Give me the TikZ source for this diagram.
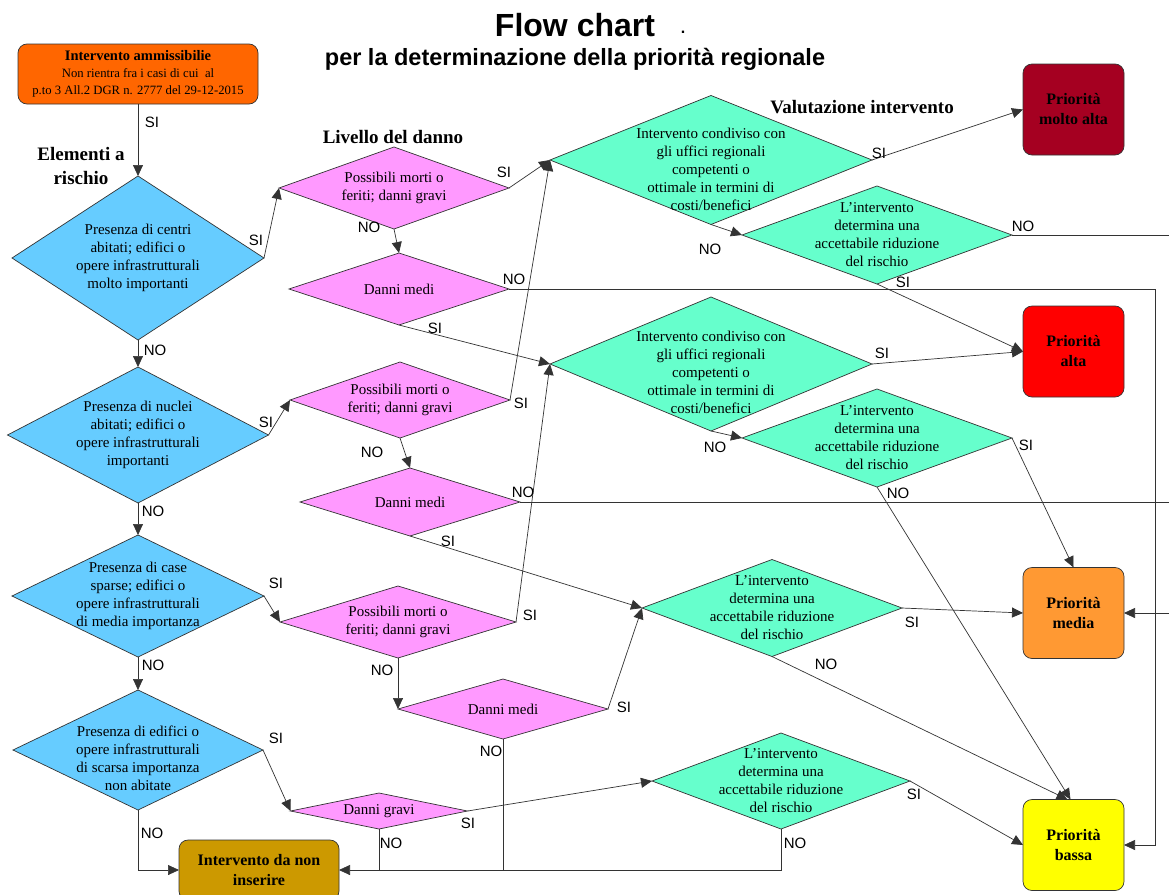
\documentclass[tikz,border=0pt]{standalone}
\usepackage{fontspec}
\setmainfont{Liberation Serif}
\setsansfont{Liberation Sans}
\usetikzlibrary{arrows.meta, shapes.geometric}

\definecolor{linegray}{HTML}{333333}
\definecolor{startorange}{HTML}{FF6600}
\definecolor{riskblue}{HTML}{66CCFF}
\definecolor{harmpink}{HTML}{FF99FF}
\definecolor{evalgreen}{HTML}{66FFCC}
\definecolor{prioveryhigh}{HTML}{A50021}
\definecolor{priohigh}{HTML}{FF0000}
\definecolor{priomid}{HTML}{FF9933}
\definecolor{priolow}{HTML}{FFFF00}
\definecolor{rejectgold}{HTML}{CC9900}

\newcommand{\diafont}{\fontsize{15}{18}\selectfont}
\newcommand{\priofont}{\bfseries\fontsize{16}{20}\selectfont}
\newcommand{\lblfont}{\sffamily\fontsize{15}{15}\selectfont}
\newcommand{\hdfont}{\bfseries\fontsize{19}{24}\selectfont}

\begin{document}
\begin{tikzpicture}[
    x=1pt, y=-1pt,
    dia/.style={diamond, draw=linegray, line width=0.7pt, inner sep=0pt, outer sep=0pt},
    risk/.style={dia, fill=riskblue},
    harm/.style={dia, fill=harmpink},
    eval/.style={dia, fill=evalgreen},
    box/.style={rectangle, draw=linegray, line width=0.7pt, rounded corners=9pt, align=center, font=\priofont, outer sep=0pt},
    prio/.style={box, minimum width=101pt, minimum height=91pt},
    dtxt/.style={align=center, font=\diafont, inner sep=0pt},
    head/.style={align=center, font=\hdfont},
    lbl/.style={font=\lblfont, inner sep=0pt},
    arrow/.style={-{Triangle[length=11pt, width=10pt]}, draw=linegray, line width=0.7pt},
    link/.style={draw=linegray, line width=0.7pt}
]
    \useasboundingbox (0,0) rectangle (1169,894);
    \fill[white] (0,0) rectangle (1169,894);

    % Titolo
    \node[font=\sffamily\bfseries\fontsize{32}{36}\selectfont, anchor=base] (title) at (575,36) {Flow chart};
    \node[font=\sffamily\bfseries\fontsize{16}{16}\selectfont, anchor=base] (titledot) at (683,33) {.};
    \node[font=\sffamily\bfseries\fontsize{23.5}{26}\selectfont, anchor=base] (subtitle) at (575,65) {per la determinazione della priorità regionale};

    % Intestazioni delle colonne
    \node[head] (hrisk) at (81,166) {Elementi a\\rischio};
    \node[head] (hharm) at (393,137) {Livello del danno};
    \node[head] (heval) at (862,107) {Valutazione intervento};

    % Intervento ammissibile
    \node[box, fill=startorange, minimum width=240pt, minimum height=60pt, font=\fontsize{12.7}{17}\selectfont] (start) at (138,74)
        {{\bfseries\fontsize{14.5}{17}\selectfont Intervento ammissibilie}\\Non rientra fra i casi di cui~ al\\p.to 3 All.2 DGR n. 2777 del 29-12-2015};

    % Elementi a rischio
    \node[risk, minimum width=252pt, minimum height=164pt] (d1) at (138,258) {};
    \node[dtxt] (d1t) at (d1) {Presenza di centri\\abitati; edifici o\\opere infrastrutturali\\molto importanti};
    \node[risk, minimum width=261pt, minimum height=136pt] (d2) at (138,435) {};
    \node[dtxt] (d2t) at (d2) {Presenza di nuclei\\abitati; edifici o\\opere infrastrutturali\\importanti};
    \node[risk, minimum width=252pt, minimum height=122pt] (d3) at (138,596) {};
    \node[dtxt] (d3t) at (d3) {Presenza di case\\sparse; edifici o\\opere infrastrutturali\\di media importanza};
    \node[risk, minimum width=250pt, minimum height=120pt] (d4) at (138,750) {};
    \node[dtxt] (d4t) at (138,758) {Presenza di edifici o\\opere infrastrutturali\\di scarsa importanza\\non abitate};

    % Livello del danno
    \node[harm, minimum width=230pt, minimum height=82pt] (p1) at (394,188) {};
    \node[dtxt] (p1t) at (p1) {Possibili morti o\\feriti; danni gravi};
    \node[harm, minimum width=220pt, minimum height=72pt] (p2) at (399,289) {};
    \node[dtxt] (p2t) at (p2) {Danni medi};
    \node[harm, minimum width=220pt, minimum height=76pt] (p3) at (400,400) {};
    \node[dtxt] (p3t) at (p3) {Possibili morti o\\feriti; danni gravi};
    \node[harm, minimum width=220pt, minimum height=68pt] (p4) at (410,502) {};
    \node[dtxt] (p4t) at (p4) {Danni medi};
    \node[harm, minimum width=236pt, minimum height=72pt] (p5) at (398,622) {};
    \node[dtxt] (p5t) at (p5) {Possibili morti o\\feriti; danni gravi};
    \node[harm, minimum width=210pt, minimum height=60pt] (p6) at (503,709) {};
    \node[dtxt] (p6t) at (p6) {Danni medi};
    \node[harm, minimum width=177pt, minimum height=36pt] (p7) at (379,811) {};
    \node[dtxt] (p7t) at (p7) {Danni gravi};

    % Valutazione intervento
    \node[eval, minimum width=322pt, minimum height=129pt] (g1) at (711,160) {};
    \node[dtxt] (g1t) at (711,169) {Intervento condiviso con\\gli uffici regionali\\competenti o\\ottimale in termini di\\costi/benefici};
    \node[eval, minimum width=270pt, minimum height=98pt] (g2) at (877,235) {};
    \node[dtxt] (g2t) at (g2) {L’intervento\\determina una\\accettabile riduzione\\del rischio};
    \node[eval, minimum width=322pt, minimum height=134pt] (g3) at (711,364) {};
    \node[dtxt] (g3t) at (711,372) {Intervento condiviso con\\gli uffici regionali\\competenti o\\ottimale in termini di\\costi/benefici};
    \node[eval, minimum width=270pt, minimum height=98pt] (g4) at (877,438) {};
    \node[dtxt] (g4t) at (g4) {L’intervento\\determina una\\accettabile riduzione\\del rischio};
    \node[eval, minimum width=260pt, minimum height=97pt] (g5) at (772,608) {};
    \node[dtxt] (g5t) at (g5) {L’intervento\\determina una\\accettabile riduzione\\del rischio};
    \node[eval, minimum width=258pt, minimum height=96pt] (g6) at (781,781) {};
    \node[dtxt] (g6t) at (g6) {L’intervento\\determina una\\accettabile riduzione\\del rischio};

    % Priorita' regionale
    \node[prio, fill=prioveryhigh] (pvh) at (1073.5,109.5) {Priorità\\molto alta};
    \node[prio, fill=priohigh] (ph) at (1073.5,351.5) {Priorità\\alta};
    \node[prio, fill=priomid] (pm) at (1073.5,613) {Priorità\\media};
    \node[prio, fill=priolow] (pl) at (1073.5,845) {Priorità\\bassa};
    \node[box, fill=rejectgold, minimum width=160pt, minimum height=60pt] (reject) at (259,870) {Intervento da non\\inserire};

    % Punti sul bordo destro
    \coordinate (rail) at (1155,289);
    \coordinate (edgea) at (1169,235);
    \coordinate (edgeb) at (1169,502);
    \coordinate (edgec) at (1169,613);

    % Frecce: elementi a rischio
    \draw[arrow] (start.south) -- (d1.north);
    \draw[arrow] (d1.south) -- (d2.north);
    \draw[arrow] (d2.south) -- (d3.north);
    \draw[arrow] (d3.south) -- (d4.north);
    \draw[arrow] (d4.south) |- (reject.west);
    \draw[arrow] (d1.east) -- (p1.west);
    \draw[arrow] (d2.east) -- (p3.west);
    \draw[arrow] (d3.east) -- (p5.west);
    \draw[arrow] (d4.east) -- (p7.west);

    % Frecce: livello del danno
    \draw[arrow] (p1.south) -- (p2.north);
    \draw[arrow] (p1.east) -- (g1.west);
    \draw[arrow] (p2.east) -- (rail) |- (pl.east);
    \draw[arrow] (p2.south) -- (g3.west);
    \draw[arrow] (p3.south) -- (p4.north);
    \draw[arrow] (p3.east) -- (g1.west);
    \draw[link] (p4.east) -- (edgeb);
    \draw[arrow] (p4.south) -- (g5.west);
    \draw[arrow] (p5.south) -- (p5.south |- p6.west);
    \draw[arrow] (p5.east) -- (g3.west);
    \draw[arrow] (p6.east) -- (g5.west);
    \draw[link] (p6.south) -- (p6.south |- reject.east);
    \draw[link] (p7.south) -- (p7.south |- reject.east);
    \draw[arrow] (p7.east) -- (g6.west);

    % Frecce: valutazione intervento
    \draw[arrow] (g1.east) -- (pvh.west);
    \draw[arrow] (g1.south) -- (g2.west);
    \draw[link] (g2.east) -- (edgea);
    \draw[arrow] (g2.south) -- (ph.west);
    \draw[arrow] (g3.east) -- (ph.west);
    \draw[arrow] (g3.south) -- (g4.west);
    \draw[arrow] (g4.east) -- (pm.north);
    \draw[arrow] (g4.south) -- ([xshift=-3pt]pl.north);
    \draw[arrow] (g5.east) -- (pm.west);
    \draw[arrow] (g5.south) -- ([xshift=-6pt]pl.north);
    \draw[arrow] (g6.east) -- (pl.west);
    \draw[arrow] (g6.south) |- (reject.east);
    \draw[arrow] (edgec) -- (pm.east);

    % Etichette SI / NO
    \node[lbl] (si-start) at (152,122) {SI};
    \node[lbl] (si-d1) at (256,240) {SI};
    \node[lbl] (no-d1) at (155,350) {NO};
    \node[lbl] (si-d2) at (266,422) {SI};
    \node[lbl] (no-d2) at (153,511) {NO};
    \node[lbl] (si-d3) at (276,583) {SI};
    \node[lbl] (no-d3) at (153,665) {NO};
    \node[lbl] (si-d4) at (276,738) {SI};
    \node[lbl] (no-d4) at (152,833) {NO};
    \node[lbl] (no-p1) at (369,227) {NO};
    \node[lbl] (si-p1) at (504,172) {SI};
    \node[lbl] (no-p2) at (514,279) {NO};
    \node[lbl] (si-p2) at (435,328) {SI};
    \node[lbl] (no-p3) at (372,452) {NO};
    \node[lbl] (si-p3) at (521,403) {SI};
    \node[lbl] (no-p4) at (523,492) {NO};
    \node[lbl] (si-p4) at (448,541) {SI};
    \node[lbl] (no-p5) at (382,670) {NO};
    \node[lbl] (si-p5) at (530,615) {SI};
    \node[lbl] (si-p6) at (624,707) {SI};
    \node[lbl] (no-p6) at (491,751) {NO};
    \node[lbl] (no-p7) at (391,843) {NO};
    \node[lbl] (si-p7) at (468,823) {SI};
    \node[lbl] (si-g1) at (879,153) {SI};
    \node[lbl] (no-g1) at (710,249) {NO};
    \node[lbl] (no-g2) at (1023,226) {NO};
    \node[lbl] (si-g2) at (903,282) {SI};
    \node[lbl] (si-g3) at (882,353) {SI};
    \node[lbl] (no-g3) at (715,447) {NO};
    \node[lbl] (si-g4) at (1026,445) {SI};
    \node[lbl] (no-g4) at (898,493) {NO};
    \node[lbl] (si-g5) at (912,622) {SI};
    \node[lbl] (no-g5) at (826,664) {NO};
    \node[lbl] (si-g6) at (914,794) {SI};
    \node[lbl] (no-g6) at (795,843) {NO};
\end{tikzpicture}
\end{document}
